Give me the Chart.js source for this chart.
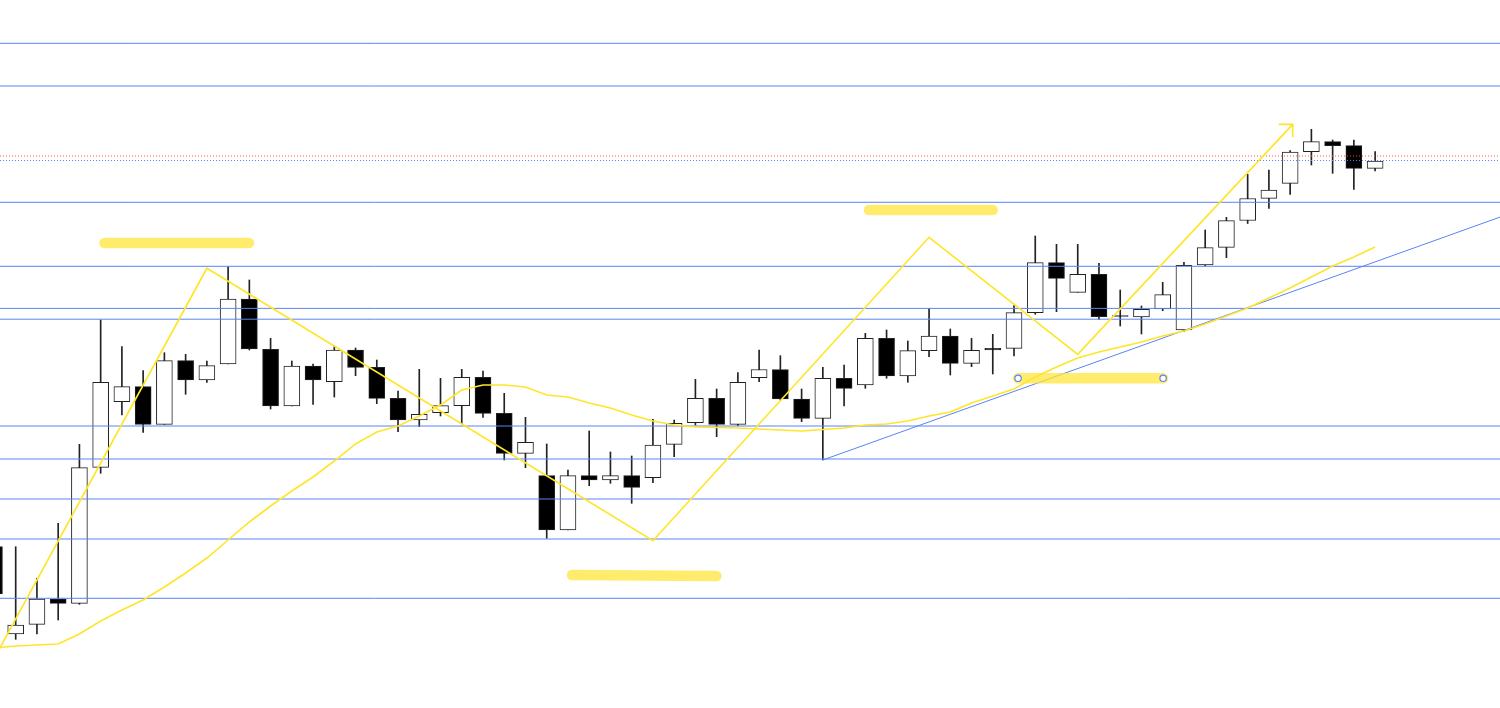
<!DOCTYPE html>
<html><head><meta charset="utf-8">
<script src="https://cdn.jsdelivr.net/npm/chart.js@4.4.0/dist/chart.umd.min.js"></script>
<style>html,body{margin:0;padding:0;background:#fff;overflow:hidden}#wrap{width:1500px;height:708px;position:relative}</style>
</head><body><div id="wrap"><canvas id="c"></canvas></div>
<script>
// OHLC values (arbitrary price units), one per candle index
const opens  = [161.3,74,83.7,109,104.7,240.7,306.3,321.3,283.7,347.3,328,344,409,358.7,302,342,326.3,358,340.7,309.7,288,295.3,302.3,330.7,294.7,254.7,232.3,178,232.3,228,232.3,230.3,263.7,285.3,309.7,283.7,330.3,338.3,309,289.7,329.7,323,369.7,332,357.3,372,344.7,359.7,359.7,395.3,445.3,415.7,433.7,392.5,391,399,378,443,460.7,487.5,509.7,524.7,556.3,566.3,562.3,539.7];
const highs  = [168,161.3,129.7,184.7,263.7,388,361.3,337.3,355.3,353.7,347,441.3,428,369.7,347,344,362,360,348,317,338.7,329.7,338.7,337,314.7,290.7,264,238,277,256,252,288.7,288,328.7,319,335.3,358,352.3,319,340.7,343,374.7,378,367,399.7,379,369.7,373.7,402.3,472,463.7,463.7,444.7,418,402,425.7,445.7,478,490.7,533.7,538,557.3,578.7,568,568,556.3];
const lows   = [108,68.7,74,88,103.7,234.7,293,275.7,283.7,313.7,325.7,344,358,299,302,303.7,311,332.3,304.3,276.3,281.3,292,284.3,290.7,248,240.3,169.7,178,222.3,224.7,204.7,225.3,251.3,283,271.3,282.3,326.3,308,286.3,248,302,319.7,329.7,325.7,351.3,333,341.3,334,352,393.7,396.3,415.7,388.7,382,374,397.3,376.3,442,450.3,484.5,499.7,513.7,543,534.7,518.7,537];
const closes = [114,83,109,104.7,240.3,325.7,321.3,283.7,347.3,328,342.3,409,359,302,342,328,358,340.7,309.7,288,293.7,302.3,330.7,294.7,254.7,265.7,178,232.3,228,232.3,220.7,263,284.7,309.7,283.7,325.7,338.5,309,289.7,329.7,319.7,369.7,332,357.3,372,344.7,357.7,358,395.3,445.3,429.7,433.7,391.3,391.5,398.7,413.3,442.7,460.3,487.3,509.5,518,556,566.3,562.3,539.7,547];
// moving average (yellow curve), one value per candle
const maValues = [60,62,63,64,74,87,98,108,121,135,150,168,186,202,217,231,247,264,276,282,292,303,318,323,323,321,313,311,305,300,293,287,283,281,280.5,280,279,278,277,278.5,280,283,284,287,292,296,305,312,319,331,341,350,356,361,366,372,377,384,392,400,410,420,431,442,451,461];
// horizontal support / resistance levels
const levels = [664.7,622,505.7,441.7,399.6,388.8,282,249,209,169,109.7];
const dottedRed = 552, dottedBlue = 547.5;
// trend line (candle index, price)
const trendIdx = [39,75], trendVals = [248,522.3];
// zigzag wave (candle index, price)
const zigIdx  = [0,10,31,44,51,61.12];
const zigVals = [50,439.7,167.3,470.7,353.7,583.7];
const arrowIdx = [60.46,61.12,61.12], arrowVals = [583.7,583.7,570.7];
// highlight marker zones
const zoneStart = [5.18,41.17,27.19,48.19];
const zoneEnd   = [11.98,47.0,33.99,55.02];
const zoneVal1  = [465,498,133,329.7];
const zoneVal2  = [465,498,132,329.7];

const BLUE = '#5b82f7', YEL = '#ffe52a';
const ds = [];
const pts = (xs, ys) => xs.map((x,i)=>({x, y: ys[i]}));
ds.push({type:'line', data: pts(zigIdx, zigVals), borderColor: YEL, borderWidth: 1.7, pointRadius: 0, order: 0});
ds.push({type:'line', data: pts(arrowIdx, arrowVals), borderColor: YEL, borderWidth: 1.7, pointRadius: 0, order: 0});
ds.push({type:'line', data: maValues.map((v,i)=>({x:i,y:v})), borderColor: YEL, borderWidth: 1.6, pointRadius: 0, order: 1});
zoneStart.forEach((s,k)=>{
  ds.push({type:'line', data:[{x:s,y:zoneVal1[k]},{x:zoneEnd[k],y:zoneVal2[k]}], borderColor:'rgba(255,230,60,0.75)', borderWidth:10.5, borderCapStyle:'round',
    pointRadius: k===3 ? 3.2 : 0, pointBackgroundColor:'#fff', pointBorderColor: BLUE, pointBorderWidth:1.2, order: 2});
});
ds.push({type:'line', data: pts(trendIdx, trendVals), borderColor: BLUE, borderWidth: 1, pointRadius: 0, order: 3});
levels.forEach(v=>ds.push({type:'line', data:[{x:-2,y:v},{x:75,y:v}], borderColor: BLUE, borderWidth: 1, pointRadius: 0, order: 4}));
ds.push({type:'line', data:[{x:-2,y:dottedRed},{x:75,y:dottedRed}], borderColor:'#ff4d4d', borderWidth:1, borderDash:[1,2], pointRadius:0, order:5});
ds.push({type:'line', data:[{x:-2,y:dottedBlue},{x:75,y:dottedBlue}], borderColor:'#5b82f7', borderWidth:1, borderDash:[1,2], pointRadius:0, order:5});
ds.push({type:'bar', data: opens.map((o,i)=>({x:i,y:[o,closes[i]]})),
  backgroundColor: ctx => { const i = ctx.dataIndex; return closes[i] < opens[i] ? '#000' : '#fff'; },
  borderColor:'#222', borderWidth:1, borderSkipped:false, barThickness:16, grouped:false, order:6});
ds.push({type:'bar', data: opens.map((o,i)=>({x:i,y:[lows[i],highs[i]]})), backgroundColor:'#222', barThickness:1, grouped:false, order:7});

new Chart(document.getElementById('c'), {
  type:'bar',
  data:{datasets: ds},
  options:{
    responsive:true, maintainAspectRatio:false, animation:false,
    layout:{padding:0, autoPadding:false},
    plugins:{legend:{display:false}, tooltip:{enabled:false}},
    scales:{
      x:{type:'linear', display:false, min:0.261, max:70.88, offset:false},
      y:{type:'linear', display:false, min:0, max:708}
    }
  }
});
</script></body></html>
